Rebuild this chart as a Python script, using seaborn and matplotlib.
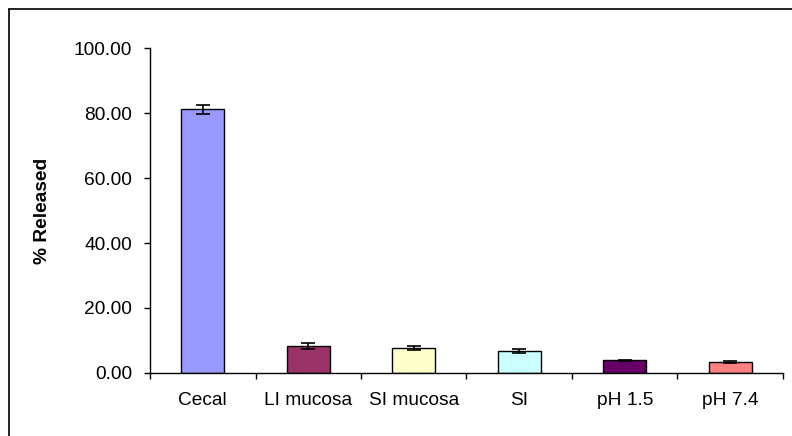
import pandas as pd
import matplotlib
matplotlib.use("Agg")
import matplotlib.pyplot as plt
from matplotlib.lines import Line2D
from matplotlib.ticker import FixedLocator, FormatStrFormatter
import seaborn as sns

categories = ["Cecal", "LI mucosa", "SI mucosa", "SI", "pH 1.5", "pH 7.4"]
released = [81.3, 8.3, 7.5, 6.7, 3.8, 3.2]
errors = [1.4, 1.0, 0.6, 0.6, 0.1, 0.3]
colors = ["#9999FF", "#993366", "#FFFFCC", "#CCFFFF", "#660066", "#FF8080"]
yticks = [0, 20, 40, 60, 80, 100]

df = pd.DataFrame({"cat": categories, "val": released, "err": errors})

sns.set_style("white")
plt.rcParams["font.family"] = ["Liberation Sans", "DejaVu Sans"]
plt.rcParams["text.color"] = "black"
plt.rcParams["axes.labelcolor"] = "black"
plt.rcParams["xtick.color"] = "black"
plt.rcParams["ytick.color"] = "black"

fig = plt.figure(figsize=(7.92, 4.36), dpi=100)
ax = fig.add_axes([150 / 792, 1 - 372.7 / 436, 633 / 792, 324.2 / 436])

sns.barplot(data=df, x="cat", y="val", hue="cat", palette=colors,
            saturation=1, errorbar=None, width=0.41, edgecolor="black",
            linewidth=1.0, legend=False, ax=ax)
ax.errorbar(range(len(categories)), df["val"], yerr=df["err"], fmt="none",
            ecolor="black", elinewidth=1.2, capsize=5, capthick=1.2)

ax.set_xlim(-0.5, len(categories) - 0.5)
ax.set_ylim(0, 100)
ax.set_yticks(yticks)
ax.yaxis.set_major_formatter(FormatStrFormatter("%.2f"))
ax.xaxis.set_minor_locator(FixedLocator([i - 0.5 for i in range(len(categories) + 1)]))

ax.tick_params(axis="y", which="major", direction="out", length=4, width=1,
               colors="black", labelsize=13.8, pad=9, left=True)
ax.tick_params(axis="x", which="major", length=0, labelsize=13.8, pad=14,
               colors="black")
ax.tick_params(axis="x", which="minor", direction="out", length=4, width=1,
               color="black", bottom=True)

ax.set_xlabel("")
ax.set_ylabel("% Released", fontsize=13.8, fontweight="bold", labelpad=16,
              color="black")

for side in ["top", "right"]:
    ax.spines[side].set_visible(False)
for side in ["left", "bottom"]:
    ax.spines[side].set_color("black")
    ax.spines[side].set_linewidth(1.0)

# border of the chart area (only left and top visible in the crop)
fig.add_artist(Line2D([8.5 / 792, 1], [1 - 9.5 / 436, 1 - 9.5 / 436],
                      transform=fig.transFigure, color="black", lw=1.2))
fig.add_artist(Line2D([8.5 / 792, 8.5 / 792], [0, 1 - 9.5 / 436],
                      transform=fig.transFigure, color="black", lw=1.2))

fig.savefig("out.png", dpi=100)
